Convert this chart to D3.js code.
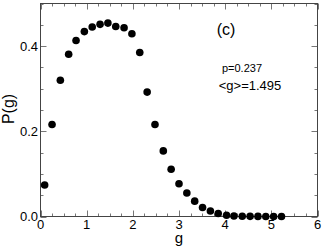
<!DOCTYPE html>
<html>
<head>
<meta charset="utf-8">
<script src="https://cdn.jsdelivr.net/npm/d3@7"></script>
<style>
body { margin: 0; background: #fff; }
text { font-family: "Liberation Sans", Arial, sans-serif; }
</style>
</head>
<body>
<script>
// P(g) distribution, panel (c)
var gValues = [0.09, 0.25, 0.43, 0.61, 0.77, 0.95, 1.12, 1.29, 1.46, 1.63,
    1.81, 1.98, 2.15, 2.31, 2.48, 2.66, 2.83, 3.00, 3.17, 3.34,
    3.51, 3.68, 3.85, 4.03, 4.19, 4.37, 4.54, 4.71, 4.88, 5.05, 5.22];
var pValues = [0.074, 0.216, 0.320, 0.381, 0.413, 0.434, 0.445, 0.451, 0.454, 0.446,
    0.443, 0.429, 0.385, 0.292, 0.216, 0.154, 0.111, 0.077, 0.055, 0.036,
    0.021, 0.013, 0.007, 0.003, 0.001, 0.0005, 0.0003, 0.0002, 0.0001, 0.0001, 0.0001];
var xTicks = [0, 1, 2, 3, 4, 5, 6];
var yTicks = [0.0, 0.2, 0.4];
var notes = ["(c)", "p=0.237", "<g>=1.495"];

var svg = d3.select("body").append("svg")
    .attr("width", 324)
    .attr("height", 247);

// plot box (note: "top" is reserved on window, so use other names)
var plotL = 40.5, plotR = 317.5, plotT = 3.5, plotB = 216.5;

var x = d3.scaleLinear().domain([0, 6]).range([plotL, plotR]);
var y = d3.scaleLinear().domain([0, 0.5]).range([plotB, plotT]);

var xMinor = d3.range(0, 6.01, 0.25);
var yMinor = d3.range(0, 0.501, 0.05);

// major ticks longer than minor ones
function tickSize(v, step) { return Math.abs(v / step - Math.round(v / step)) < 1e-6 ? 6 : 3; }

var ax = svg.append("g").attr("stroke", "#777");
// bottom + top ticks, pointing inward
ax.selectAll(".xt").data(xMinor).enter().append("line")
    .attr("x1", function (d) { return Math.round(x(d)) + 0.5; })
    .attr("x2", function (d) { return Math.round(x(d)) + 0.5; })
    .attr("y1", plotB)
    .attr("y2", function (d) { return plotB - tickSize(d, 1); });
ax.selectAll(".xtt").data(xMinor).enter().append("line")
    .attr("x1", function (d) { return Math.round(x(d)) + 0.5; })
    .attr("x2", function (d) { return Math.round(x(d)) + 0.5; })
    .attr("y1", plotT)
    .attr("y2", function (d) { return plotT + tickSize(d, 1); });
// left + right ticks
ax.selectAll(".yt").data(yMinor).enter().append("line")
    .attr("x1", plotL)
    .attr("x2", function (d) { return plotL + tickSize(d, 0.2); })
    .attr("y1", function (d) { return Math.round(y(d)) + 0.5; })
    .attr("y2", function (d) { return Math.round(y(d)) + 0.5; });
ax.selectAll(".ytr").data(yMinor).enter().append("line")
    .attr("x1", plotR)
    .attr("x2", function (d) { return plotR - tickSize(d, 0.2); })
    .attr("y1", function (d) { return Math.round(y(d)) + 0.5; })
    .attr("y2", function (d) { return Math.round(y(d)) + 0.5; });

// frame
svg.append("rect")
    .attr("x", plotL)
    .attr("y", plotT)
    .attr("width", plotR - plotL)
    .attr("height", plotB - plotT)
    .attr("fill", "none")
    .attr("stroke", "#444")
    .attr("stroke-width", 1);

// tick labels
svg.selectAll(".xl").data(xTicks).enter().append("text")
    .attr("x", function (d) { return x(d); })
    .attr("y", 229)
    .attr("text-anchor", "middle")
    .attr("font-size", "13px")
    .text(function (d) { return d; });

svg.selectAll(".yl").data(yTicks).enter().append("text")
    .attr("x", 38)
    .attr("y", function (d) { return y(d) + 4.5; })
    .attr("text-anchor", "end")
    .attr("font-size", "13px")
    .text(function (d) { return d.toFixed(1); });

// axis titles
svg.append("text")
    .attr("x", 179)
    .attr("y", 243)
    .attr("text-anchor", "middle")
    .attr("font-size", "15px")
    .text("g");

svg.append("text")
    .attr("transform", "translate(14,109) rotate(-90)")
    .attr("text-anchor", "middle")
    .attr("font-size", "16px")
    .text("P(g)");

// points
svg.selectAll("circle")
    .data(gValues)
    .enter()
    .append("circle")
    .attr("cx", function (d) { return x(d); })
    .attr("cy", function (d, i) { return y(pValues[i]); })
    .attr("r", 3.8)
    .style("fill", "#000");

// annotations
svg.append("text").attr("x", 226).attr("y", 35)
    .attr("text-anchor", "middle").attr("font-size", "16px").text(notes[0]);
svg.append("text").attr("x", 242).attr("y", 72)
    .attr("text-anchor", "middle").attr("font-size", "11px").text(notes[1]);
svg.append("text").attr("x", 250).attr("y", 90)
    .attr("text-anchor", "middle").attr("font-size", "13px").text(notes[2]);
</script>
</body>
</html>
